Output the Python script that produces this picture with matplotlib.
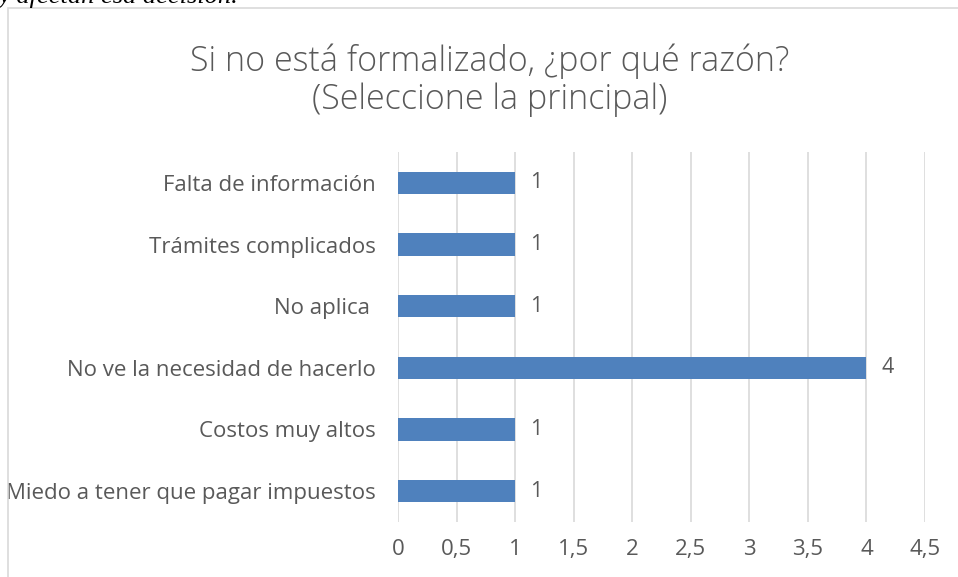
import matplotlib.pyplot as plt
from matplotlib.patches import Rectangle
from matplotlib.ticker import FuncFormatter

# categories listed top to bottom
categorias = ["Falta de información", "Trámites complicados", "No aplica ",
              "No ve la necesidad de hacerlo", "Costos muy altos",
              "Miedo a tener que pagar impuestos"]
valores = [1, 1, 1, 4, 1, 1]
ticks_x = [0, 0.5, 1, 1.5, 2, 2.5, 3, 3.5, 4, 4.5]

gris = "#595959"
azul = "#4F81BD"

plt.rcParams['font.family'] = ['Open Sans', 'DejaVu Sans']

fig = plt.figure(figsize=(9.58, 5.77), dpi=100)
W, H = 958, 577
ax = fig.add_axes([398 / W, 1 - 522 / H, (925 - 398) / W, (522 - 152) / H])

# chart frame (cut off on right/bottom like the source)
fig.patches.append(Rectangle((8 / W, -0.1), 1.2, 1 - 8 / H + 0.1,
                             transform=fig.transFigure, fill=False,
                             edgecolor="#D9D9D9", linewidth=1.2))

# fragment of the document text above the chart
fig.text(-0.002, 1 - 3 / H, "y afectan esa decisión.", family="Liberation Serif",
         style="italic", fontsize=19, color="black", va="baseline", ha="left")

y = list(range(len(categorias)))[::-1]
ax.barh(y, valores, height=0.36, color=azul, zorder=3)
for yi, v in zip(y, valores):
    ax.text(v + 0.13, yi, str(v), va="center", ha="left", fontsize=15.5, color=gris)

ax.set_xlim(0, 4.5)
ax.set_ylim(-0.5, len(categorias) - 0.5)
ax.set_xticks(ticks_x)
ax.xaxis.set_major_formatter(FuncFormatter(lambda v, p: f"{v:g}".replace(".", ",")))
ax.set_yticks(y)
ax.set_yticklabels(categorias)
ax.grid(axis="x", color="#D9D9D9", linewidth=1.2, zorder=0)
for s in ax.spines.values():
    s.set_visible(False)
ax.tick_params(axis="both", length=0, labelsize=16, labelcolor=gris)
ax.tick_params(axis="x", pad=12)
ax.tick_params(axis="y", pad=16)

fig.text(490 / W, 1 - 80 / H, "Si no está formalizado, ¿por qué razón?\n(Seleccione la principal)",
         ha="center", va="center", fontsize=24.5, color=gris, linespacing=1.12,
         fontweight="light")

fig.savefig("out.png", dpi=100)
